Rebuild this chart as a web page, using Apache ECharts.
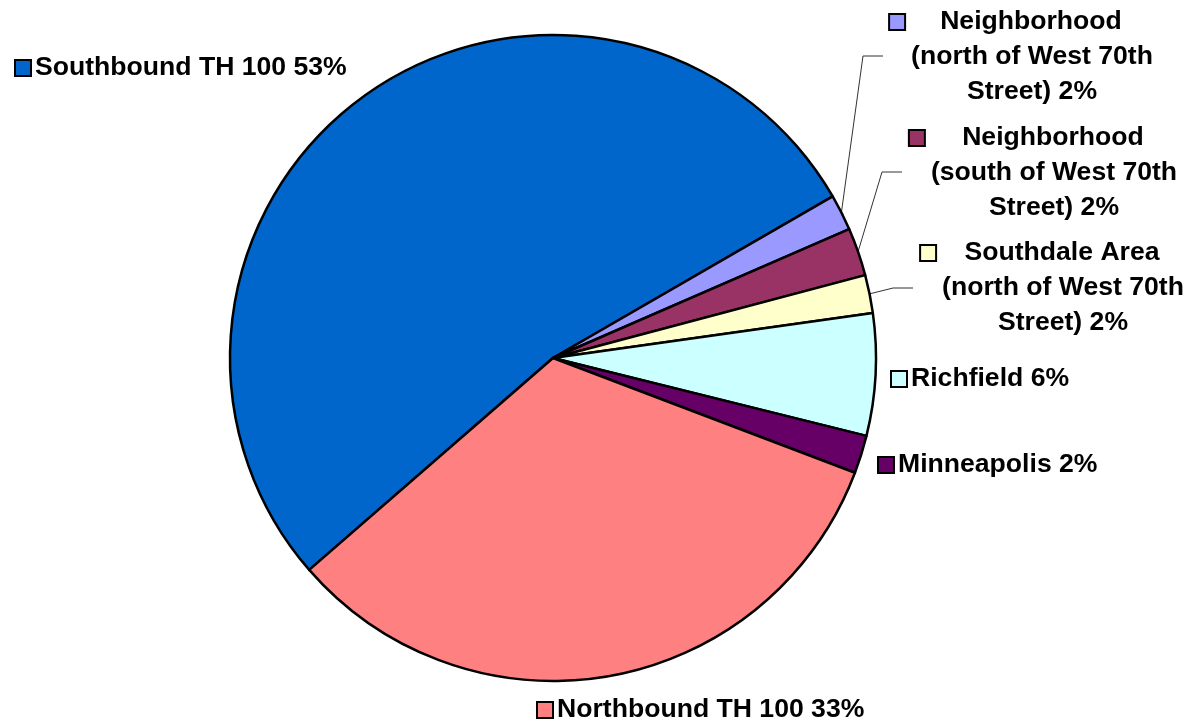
<!DOCTYPE html>
<html><head><meta charset="utf-8">
<script src="https://cdn.jsdelivr.net/npm/echarts@6/dist/echarts.min.js"></script>
<style>html,body{margin:0;padding:0;background:#fff}#c{width:1191px;height:726px}</style>
</head><body><div id="c"></div>
<script>
const categories = [
  'Southbound TH 100',
  'Neighborhood\n(north of West 70th\nStreet)',
  'Neighborhood\n(south of West 70th\nStreet)',
  'Southdale Area\n(north of West 70th\nStreet)',
  'Richfield',
  'Minneapolis',
  'Northbound TH 100'
];
const shares = [53, 1.8, 2.4, 1.9, 6.1, 1.9, 32.8];
const colors = ['#0066CC', '#9999FF', '#993366', '#FFFFCC', '#CCFFFF', '#660066', '#FF8080'];

const FONT_FAMILY = '"Liberation Sans", Arial, sans-serif';
const FONT_SIZE = 26.6;
const ctx = document.createElement('canvas').getContext('2d');
ctx.font = 'bold ' + FONT_SIZE + 'px ' + FONT_FAMILY;
const measure = s => ctx.measureText(s).width;

// label placement (layout only)
const labelPos = [
  {x: 16, y: 68, align: 'left'},
  {x: 1032, y: 57, align: 'center', line: [[863, 56], [883, 56]]},
  {x: 1054, y: 173, align: 'center', line: [[882, 172], [902, 172]]},
  {x: 1063, y: 288, align: 'center', line: [[893, 288], [913, 288]]},
  {x: 892, y: 379, align: 'left'},
  {x: 879, y: 465, align: 'left'},
  {x: 538, y: 710, align: 'left'}
];

const total = shares.reduce((a, b) => a + b, 0);
const rich = {
  t: {fontFamily: FONT_FAMILY, fontWeight: 'bold', fontSize: FONT_SIZE, lineHeight: 35, color: '#000'},
  s: {width: 5, height: 14}
};
const labelText = [];
categories.forEach((name, i) => {
  rich['b' + i] = {width: 14, height: 14, backgroundColor: colors[i], borderColor: '#000', borderWidth: 2};
  const pct = Math.round(shares[i] / total * 100);
  const lines = (name + ' ' + pct + '%').split('\n');
  if (lines.length === 1) {
    labelText.push('{b' + i + '|}{s|}{t|' + lines[0] + '}');
  } else {
    const maxW = Math.max(...lines.map(measure));
    const gap = (maxW - measure(lines[0])) / 2 + 6;
    rich['g' + i] = {width: gap, height: 14};
    rich['p' + i] = {width: gap + 16, height: 14};
    const out = ['{b' + i + '|}{g' + i + '|}{t|' + lines[0] + '}{p' + i + '|}'];
    for (let k = 1; k < lines.length; k++) out.push('{t|' + lines[k] + '}');
    labelText.push(out.join('\n'));
  }
});

const data = categories.map((name, i) => ({
  name: name,
  value: shares[i],
  itemStyle: {color: colors[i]},
  labelLine: {show: !!labelPos[i].line}
}));

const chart = echarts.init(document.getElementById('c'), null, {renderer: 'canvas'});
chart.setOption({
  backgroundColor: '#fff',
  animation: false,
  series: [{
    type: 'pie',
    center: [553, 358],
    radius: 323,
    startAngle: 221,
    clockwise: true,
    percentPrecision: 0,
    avoidLabelOverlap: false,
    data: data,
    itemStyle: {borderColor: '#000', borderWidth: 2.5},
    label: {
      show: true,
      position: 'outside',
      formatter: p => labelText[p.dataIndex],
      rich: rich
    },
    labelLine: {show: true, length: 10, length2: 10, lineStyle: {color: '#333', width: 1}},
    emphasis: {disabled: true},
    labelLayout: function (params) {
      const lp = labelPos[params.dataIndex];
      const res = {x: lp.x, y: lp.y, align: lp.align, verticalAlign: 'middle', hideOverlap: false, moveOverlap: null};
      if (lp.line && params.labelLinePoints) {
        res.labelLinePoints = [params.labelLinePoints[0], lp.line[0], lp.line[1]];
      }
      return res;
    }
  }]
});
</script>
</body></html>
